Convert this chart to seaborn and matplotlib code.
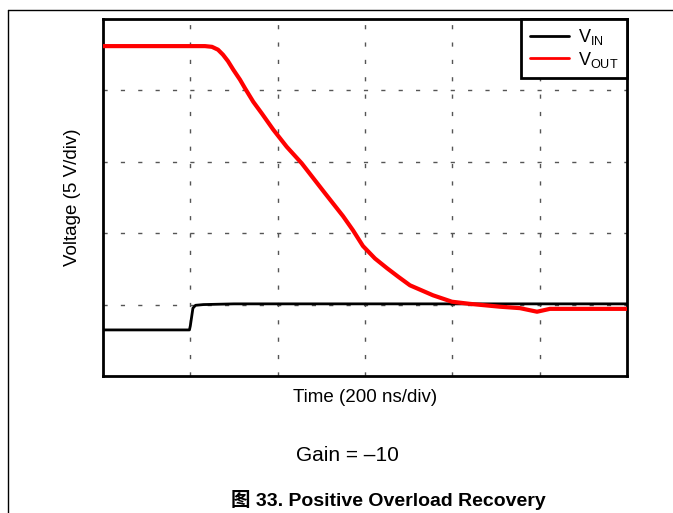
import matplotlib.pyplot as plt
import pandas as pd
import seaborn as sns
from matplotlib.lines import Line2D

# time in divisions (200 ns/div), voltage in divisions (5 V/div)
vin_t = [0.0, 0.99, 1.0, 1.03, 1.06, 1.15, 1.5, 3.0, 4.5, 6.0]
vin_v = [0.645, 0.645, 0.70, 0.95, 0.99, 1.0, 1.01, 1.01, 1.01, 1.01]

vout_t = [0.0, 0.6, 1.0, 1.168, 1.248, 1.317, 1.374, 1.431, 1.492, 1.569,
          1.626, 1.721, 1.817, 1.95, 2.104, 2.275, 2.542, 2.748, 2.863, 2.977,
          3.115, 3.252, 3.381, 3.515, 3.779, 3.996, 4.202, 4.546, 4.775, 4.97,
          5.118, 5.46, 6.0]
vout_v = [4.62, 4.62, 4.62, 4.62, 4.61, 4.57, 4.50, 4.41, 4.29, 4.15,
          4.03, 3.84, 3.68, 3.45, 3.21, 2.98, 2.56, 2.24, 2.04, 1.82,
          1.645, 1.51, 1.39, 1.27, 1.13, 1.04, 1.01, 0.97, 0.95, 0.90,
          0.94, 0.94, 0.94]

x_grid = [1, 2, 3, 4, 5]
y_grid = [1, 2, 3, 4]

sns.set_style("white")
plt.rcParams["font.family"] = ["Liberation Sans", "Noto Sans CJK SC"]
plt.rcParams["mathtext.fontset"] = "custom"
plt.rcParams["mathtext.rm"] = "Liberation Sans"
plt.rcParams["text.color"] = "black"
plt.rcParams["axes.labelcolor"] = "black"

fig = plt.figure(figsize=(6.73, 5.13), dpi=100)
ax = fig.add_axes([0.153, 0.2671, 0.7786, 0.6959])

df_in = pd.DataFrame(dict(t=vin_t, v=vin_v))
df_out = pd.DataFrame(dict(t=vout_t, v=vout_v))

sns.lineplot(data=df_in, x="t", y="v", ax=ax, color="black", lw=2.0,
             sort=False, estimator=None, label=r"V$_{\mathrm{IN}}$", zorder=3)
sns.lineplot(data=df_out, x="t", y="v", ax=ax, color="#ff0000", lw=3.0,
             sort=False, estimator=None, label=r"V$_{\mathrm{OUT}}$", zorder=4)

ax.set_xlim(0, 6)
ax.set_ylim(0, 5)
ax.set_xticks(x_grid)
ax.set_yticks(y_grid)
ax.set_xticklabels([])
ax.set_yticklabels([])
ax.tick_params(length=0)
ax.grid(True, color="#555555", lw=1.0, linestyle=(0, (3, 9.5)))
for s in ax.spines.values():
    s.set_color("black")
    s.set_linewidth(2.0)

ax.set_xlabel("Time (200 ns/div)", fontsize=13.5, labelpad=6)
ax.set_ylabel("Voltage (5 V/div)", fontsize=13.5, labelpad=12)

leg = ax.legend(loc="upper right", borderaxespad=0, fancybox=False,
                fontsize=13, handlelength=2.2, handletextpad=0.5,
                borderpad=0.45, labelspacing=0.15, framealpha=1)
leg.get_frame().set_edgecolor("black")
leg.get_frame().set_linewidth(2.0)
for h in leg.get_lines():
    h.set_linewidth(2.0)

fig.text(0.516, 0.113, "Gain = \u201310", fontsize=15, ha="center", va="center")
fig.text(0.577, 0.0253, "图 33. Positive Overload Recovery", fontsize=14,
         fontweight="bold", ha="center", va="center")

# page frame lines
fig.add_artist(Line2D([0.0119, 0.0119], [0, 0.9805], color="black", lw=1.0))
fig.add_artist(Line2D([0.0119, 1.0], [0.9805, 0.9805], color="black", lw=1.0))

fig.savefig("out.png", dpi=100)
